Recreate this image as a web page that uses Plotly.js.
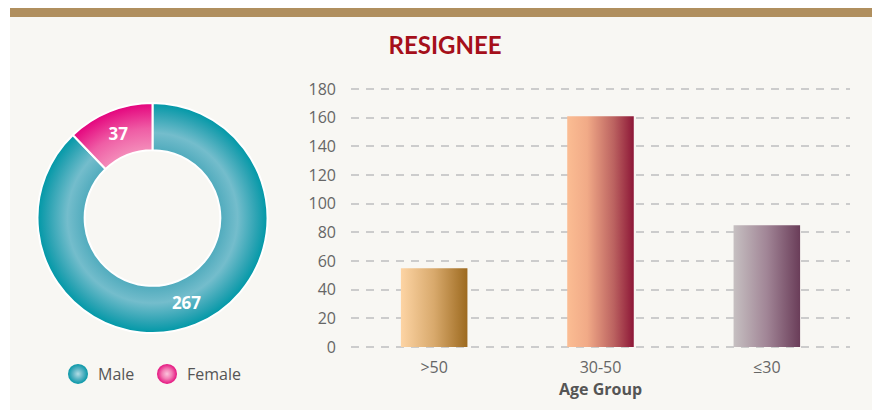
<!DOCTYPE html>
<html>
<head>
<meta charset="utf-8">
<script src="https://cdn.plot.ly/plotly-3.0.1.min.js"></script>
<style>
  html, body { margin: 0; padding: 0; background: #ffffff; }
  #chart { width: 872px; height: 410px; }
</style>
</head>
<body>
<div id="chart"></div>
<script>
const genderLabels = ['Male', 'Female'];
const genderValues = [267, 37];
const genderColors = ['#2aa3b4', '#ee4f9e'];

const ageGroups = ['>50', '30-50', '≤30'];
const ageValues = [55, 161, 85];
const ageColors = ['#cf9c5f', '#c86b68', '#9a7d8d'];

// left -> right colour stops for each bar
const barStops = [
    [[0, '#fdd4a4'], [0.5, '#d8a96c'], [1, '#9d6a1f']],
    [[0, '#fbbd93'], [0.3, '#f1aa87'], [0.7, '#bb6260'], [1, '#8d1737']],
    [[0, '#c6c0c1'], [0.5, '#a18596'], [1, '#6a3d59']]
];

const gd = document.getElementById('chart');

const pieTrace = {
    type: 'pie',
    labels: genderLabels,
    values: genderValues,
    hole: 0.59,
    sort: false,
    direction: 'clockwise',
    rotation: 0,
    textinfo: 'value',
    textposition: 'inside',
    insidetextorientation: 'horizontal',
    textfont: { family: 'Open Sans, sans-serif', size: 17, color: '#ffffff', weight: 'bold' },
    marker: { colors: genderColors, line: { color: '#ffffff', width: 2 } },
    domain: { x: [37 / 872, 268 / 872], y: [77 / 410, 307 / 410] },
    hoverinfo: 'label+value',
    showlegend: true
};

const barTrace = {
    type: 'bar',
    x: ageGroups,
    y: ageValues,
    marker: { color: ageColors },
    xaxis: 'x',
    yaxis: 'y',
    showlegend: false,
    hoverinfo: 'x+y'
};

// 258px for 180 units; pad the range so the 0 and 180 grid lines are not dropped at the edges
const yPad = 1.5;
const pxPerUnit = 258 / 180;

const layout = {
    width: 872,
    height: 410,
    margin: { l: 0, r: 0, t: 0, b: 0 },
    paper_bgcolor: 'rgba(0,0,0,0)',
    plot_bgcolor: 'rgba(0,0,0,0)',
    font: { family: 'Open Sans, sans-serif', color: '#666666' },
    title: {
        text: '<b>RESIGNEE</b>',
        font: { family: 'Lato, sans-serif', size: 24, color: '#a50f1a', weight: 900 },
        x: 445 / 872,
        xanchor: 'center',
        y: 1 - 46 / 410,
        yanchor: 'middle'
    },
    bargap: 0.6,
    xaxis: {
        domain: [351 / 872, 850 / 872],
        range: [-0.5, 2.5],
        showgrid: false,
        zeroline: false,
        showline: false,
        ticks: '',
        ticklabelstandoff: 7,
        tickfont: { size: 16, color: '#666666' },
        title: {
            text: '<b>Age Group</b>',
            font: { size: 16, color: '#555555' },
            standoff: 2
        }
    },
    yaxis: {
        domain: [(63 - yPad * pxPerUnit) / 410, (321 + yPad * pxPerUnit) / 410],
        range: [-yPad, 180 + yPad],
        tickvals: [0, 20, 40, 60, 80, 100, 120, 140, 160, 180],
        showgrid: true,
        gridcolor: '#cccccc',
        gridwidth: 2,
        griddash: '8px,7px',
        zeroline: false,
        showline: false,
        ticks: '',
        ticklabelstandoff: 14,
        tickfont: { size: 16, color: '#666666' }
    },
    legend: {
        orientation: 'h',
        x: 58 / 872,
        xanchor: 'left',
        y: 36 / 410,
        yanchor: 'middle',
        font: { family: 'Open Sans, sans-serif', size: 16, color: '#555555' },
        bgcolor: 'rgba(0,0,0,0)',
        entrywidth: 44,
        entrywidthmode: 'pixels'
    },
    shapes: [
        { type: 'rect', xref: 'paper', yref: 'paper', x0: 10 / 872, x1: 1, y0: 0, y1: 1 - 17 / 410,
          fillcolor: '#f8f7f3', line: { width: 0 }, layer: 'below' },
        { type: 'rect', xref: 'paper', yref: 'paper', x0: 10 / 872, x1: 1, y0: 1 - 17 / 410, y1: 1 - 8 / 410,
          fillcolor: '#b08f5e', line: { width: 0 }, layer: 'below' }
    ]
};

const SVGNS = 'http://www.w3.org/2000/svg';

function makeGradient(defs, id, radial, stops, attrs) {
    const old = defs.querySelector('#' + id);
    if (old) old.remove();
    const g = document.createElementNS(SVGNS, radial ? 'radialGradient' : 'linearGradient');
    g.setAttribute('id', id);
    Object.keys(attrs).forEach(k => g.setAttribute(k, attrs[k]));
    stops.forEach(s => {
        const st = document.createElementNS(SVGNS, 'stop');
        st.setAttribute('offset', s[0]);
        st.setAttribute('stop-color', s[1]);
        g.appendChild(st);
    });
    defs.appendChild(g);
}

function applyGradients() {
    const defs = gd.querySelector('.main-svg defs');
    if (!defs) return;

    // bars
    const bars = gd.querySelectorAll('.barlayer .trace .point path');
    bars.forEach((p, i) => {
        makeGradient(defs, 'barg' + i, false, barStops[i], { x1: 0, y1: 0, x2: 1, y2: 0 });
        p.style.fill = 'url(#barg' + i + ')';
    });

    // donut slices
    const slices = gd.querySelectorAll('.pielayer .slice path.surface');
    if (slices.length) {
        const bb = slices[0].getBBox();
        const cx = bb.x + bb.width / 2;
        const cy = bb.y + bb.height / 2;
        const r = Math.max(bb.width, bb.height) / 2;
        const attrs = { gradientUnits: 'userSpaceOnUse', cx: cx, cy: cy, r: r };
        makeGradient(defs, 'pieg0', true,
            [[0.58, '#4eaabc'], [0.74, '#74bdcc'], [0.9, '#2ea4b4'], [1, '#0098a7']], attrs);
        makeGradient(defs, 'pieg1', true,
            [[0.58, '#f48fbb'], [0.78, '#ef5da5'], [1, '#e4037d']], attrs);
        slices.forEach((p, i) => { p.style.fill = 'url(#pieg' + i + ')'; });
    }

    // round legend icons, and let the last label run past the legend box
    makeGradient(defs, 'legg0', true, [[0, '#b3dde5'], [0.5, '#5db5c5'], [1, '#0897a7']],
        { cx: 0.5, cy: 0.5, r: 0.5 });
    makeGradient(defs, 'legg1', true, [[0, '#fbc3dc'], [0.5, '#f27cb4'], [1, '#e5137f']],
        { cx: 0.5, cy: 0.5, r: 0.5 });
    const icons = gd.querySelectorAll('.legend .traces path.legendpie');
    icons.forEach((p, i) => {
        p.setAttribute('d', 'M10,0A10,10 0 1,1 0,-10A10,10 0 0,1 10,0Z');
        p.style.fill = 'url(#legg' + i + ')';
        p.style.stroke = 'none';
    });
    gd.querySelectorAll('.legend [clip-path]').forEach(el => el.removeAttribute('clip-path'));
}

Plotly.newPlot(gd, [pieTrace, barTrace], layout, { displayModeBar: false, staticPlot: true })
    .then(() => {
        applyGradients();
        gd.on('plotly_afterplot', applyGradients);
    });
</script>
</body>
</html>
